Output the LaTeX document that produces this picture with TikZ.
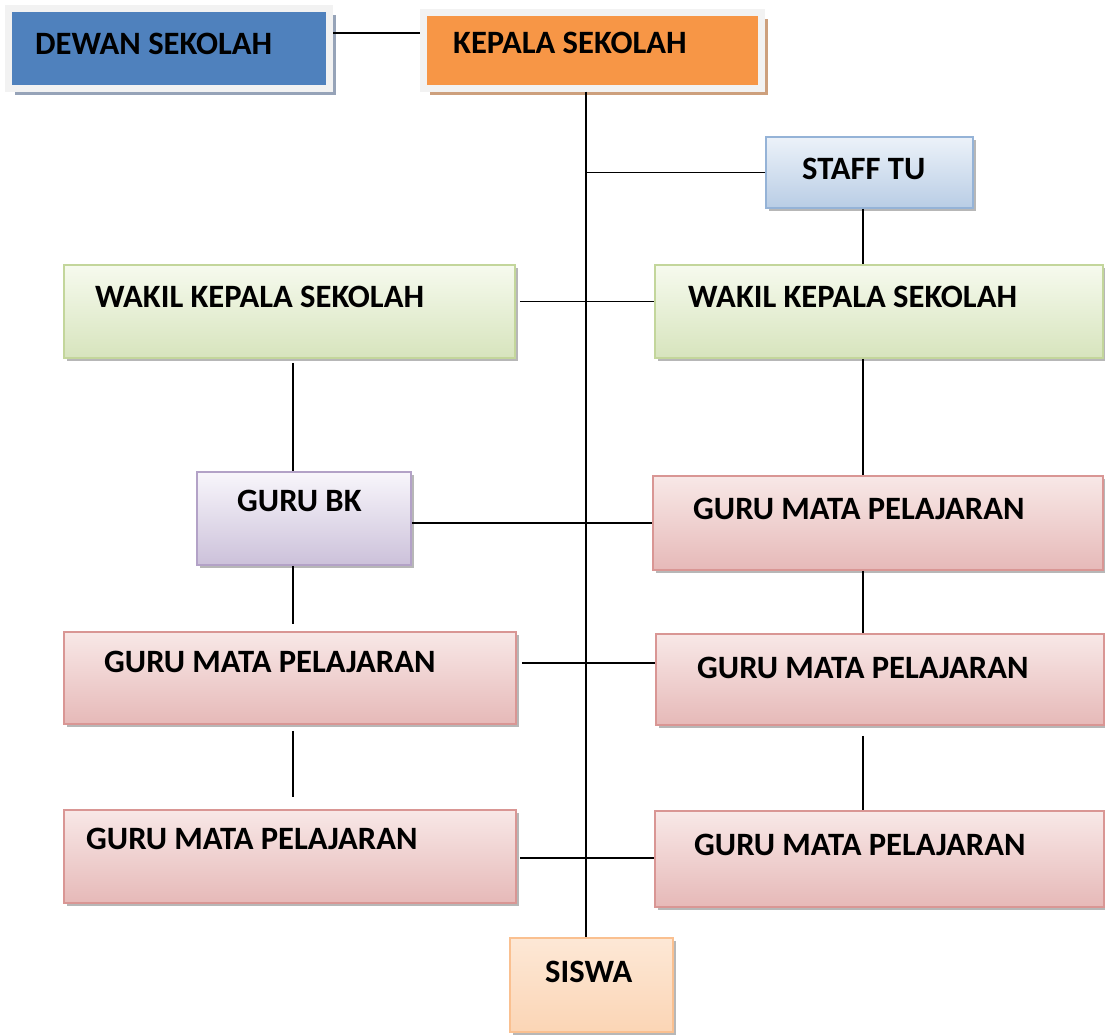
\documentclass[tikz,border=0pt]{standalone}
\usepackage{fontspec}
\setmainfont{Carlito}
\usetikzlibrary{calc,shadows}
\definecolor{dewanblue}{HTML}{4F81BD}
\definecolor{kepalaorange}{HTML}{F79646}
\definecolor{framegrey}{HTML}{F2F2F2}
\tikzset{
  conn/.style={draw=black, line width=1.7pt},
  lbl/.style={anchor=base west, inner sep=0pt, font=\fontsize{32.6}{38}\selectfont\bfseries},
  basebox/.style={rectangle, inner sep=0pt, line width=1.5pt,
    drop shadow={shadow xshift=3pt, shadow yshift=-3pt, fill=black!40, opacity=0.7}},
  framebox/.style={rectangle, inner sep=0pt, draw=framegrey, line width=7pt},
  gbox/.style={basebox, draw={rgb,255:red,195;green,214;blue,155}, top color={rgb,255:red,246;green,250;blue,238}, bottom color={rgb,255:red,215;green,228;blue,189}},
  pbox/.style={basebox, draw={rgb,255:red,217;green,150;blue,148}, top color={rgb,255:red,248;green,232;blue,231}, bottom color={rgb,255:red,230;green,185;blue,184}},
  bbox/.style={basebox, draw={rgb,255:red,149;green,179;blue,215}, top color={rgb,255:red,236;green,242;blue,249}, bottom color={rgb,255:red,185;green,205;blue,229}},
  vbox/.style={basebox, draw={rgb,255:red,179;green,162;blue,199}, top color={rgb,255:red,248;green,246;blue,251}, bottom color={rgb,255:red,204;green,193;blue,218}},
  sbox/.style={basebox, draw={rgb,255:red,250;green,192;blue,144}, top color={rgb,255:red,253;green,232;blue,214}, bottom color={rgb,255:red,251;green,213;blue,181}},
}
\begin{document}
\begin{tikzpicture}[x=1pt,y=1pt]
\useasboundingbox (0,0) rectangle (1105,-1034);
% top boxes
\node[framebox, fill=dewanblue, minimum width=321.5pt, minimum height=80pt,
  drop shadow={shadow xshift=6.5pt, shadow yshift=-6.5pt, fill={rgb,255:red,150;green,163;blue,184}, opacity=1}] (dewan) at (169,-48.5) {};
\node[framebox, fill=kepalaorange, minimum width=338pt, minimum height=76pt,
  drop shadow={shadow xshift=6.5pt, shadow yshift=-6.5pt, fill={rgb,255:red,205;green,160;blue,125}, opacity=1}] (kepala) at (592.5,-50) {};
\node[bbox, minimum width=207pt, minimum height=71pt] (staff) at (869.5,-172.5) {};
\node[gbox, minimum width=451pt, minimum height=93pt] (wl) at (289.5,-311.5) {};
\node[gbox, minimum width=448pt, minimum height=93pt] (wr) at (879,-311.5) {};
\node[vbox, minimum width=214pt, minimum height=93pt] (bk) at (304,-518.5) {};
\node[pbox, minimum width=450pt, minimum height=94pt] (gr1) at (878,-523) {};
\node[pbox, minimum width=452pt, minimum height=92pt] (gl1) at (290,-678) {};
\node[pbox, minimum width=448pt, minimum height=91pt] (gr2) at (880,-679.5) {};
\node[pbox, minimum width=452pt, minimum height=93pt] (gl2) at (290,-856.5) {};
\node[pbox, minimum width=449pt, minimum height=96pt] (gr3) at (879.5,-859) {};
\node[sbox, minimum width=163pt, minimum height=94pt] (siswa) at (591.5,-985) {};
% labels
\node[lbl] (tdewan) at (35,-54) {DEWAN SEKOLAH};
\node[lbl] (tkepala) at (453,-53) {KEPALA SEKOLAH};
\node[lbl] (tstaff) at (802,-179) {STAFF TU};
\node[lbl] (twl) at (95,-307) {WAKIL KEPALA SEKOLAH};
\node[lbl] (twr) at (688,-307) {WAKIL KEPALA SEKOLAH};
\node[lbl] (tbk) at (237,-511) {GURU BK};
\node[lbl] (tgr1) at (693,-519) {GURU MATA PELAJARAN};
\node[lbl] (tgl1) at (104,-672) {GURU MATA PELAJARAN};
\node[lbl] (tgr2) at (697,-678) {GURU MATA PELAJARAN};
\node[lbl] (tgl2) at (86,-849) {GURU MATA PELAJARAN};
\node[lbl] (tgr3) at (694,-855) {GURU MATA PELAJARAN};
\node[lbl] (tsiswa) at (545,-982) {SISWA};
% connectors
\coordinate (tk) at ($(kepala.south)+(-6.5,0)$);
\draw[conn] ($(dewan.east)+(0,15.5)$) -- ($(dewan.east -| kepala.west)+(0,15.5)$);
\draw[conn] (tk) -- (tk |- siswa.north);
\draw[conn] (staff.west) -- (staff.west -| tk);
\draw[conn] ($(staff.south)+(-6.5,0)$) -- ($(staff.south |- wr.north)+(-6.5,0)$);
\draw[conn] ($(wl.east)+(4,10)$) -- ($(wl.east -| wr.west)+(0,10)$);
\draw[conn] ($(wl.south)+(3.5,-4)$) -- ($(wl.south |- bk.north)+(3.5,0)$);
\draw[conn] ($(bk.east)+(0,-4.5)$) -- ($(bk.east -| gr1.west)+(0,-4.5)$);
\draw[conn] ($(wr.south)+(-16,0)$) -- ($(wr.south |- gr1.north)+(-16,0)$);
\draw[conn] ($(bk.south)+(-11,0)$) -- ($(bk.south |- gl1.north)+(-11,7)$);
\draw[conn] ($(gr1.south)+(-15,0)$) -- ($(gr1.south |- gr2.north)+(-15,0)$);
\draw[conn] ($(gl1.east)+(5,15)$) -- ($(gl1.east -| gr2.west)+(0,15)$);
\draw[conn] ($(gl1.south)+(3,-6)$) -- ($(gl1.south |- gl2.north)+(3,12)$);
\draw[conn] ($(gr2.south)+(-17,-10)$) -- ($(gr2.south |- gr3.north)+(-17,0)$);
\draw[conn] ($(gl2.east)+(3,-1.5)$) -- ($(gl2.east -| gr3.west)+(0,-1.5)$);
\end{tikzpicture}
\end{document}
